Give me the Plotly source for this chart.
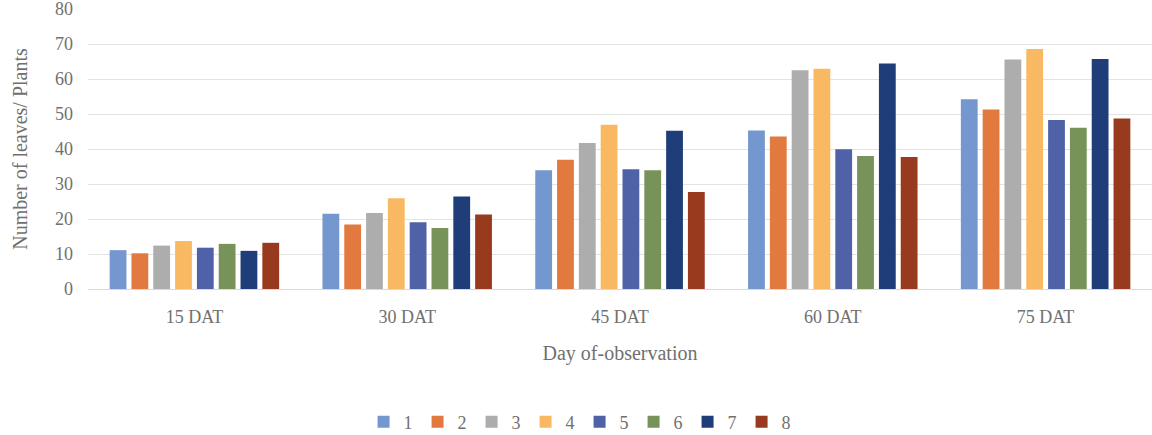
import plotly.graph_objects as go

categories = ["15 DAT", "30 DAT", "45 DAT", "60 DAT", "75 DAT"]
series_names = ["1", "2", "3", "4", "5", "6", "7", "8"]
s1 = [11.1, 21.5, 33.9, 45.3, 54.2]
s2 = [10.2, 18.4, 36.9, 43.6, 51.3]
s3 = [12.4, 21.7, 41.7, 62.5, 65.6]
s4 = [13.7, 25.9, 46.9, 62.9, 68.6]
s5 = [11.8, 19.1, 34.2, 39.9, 48.3]
s6 = [12.9, 17.4, 33.9, 38.0, 46.1]
s7 = [10.9, 26.4, 45.2, 64.4, 65.7]
s8 = [13.2, 21.3, 27.7, 37.7, 48.7]
series_values = [s1, s2, s3, s4, s5, s6, s7, s8]
y_ticks = [0, 10, 20, 30, 40, 50, 60, 70, 80]

colors = ["#7497cf", "#e27a40", "#adadad", "#f9b862", "#4f62a7", "#78935a", "#1f3d78", "#983a1d"]

font_family = "Liberation Serif, Times New Roman, serif"
text_color = "#707070"

fig = go.Figure()
for name, vals, col in zip(series_names, series_values, colors):
    fig.add_trace(go.Bar(x=categories, y=vals, name=name, marker=dict(color=col, line=dict(width=0))))

fig.update_layout(
    width=1152, height=435,
    barmode="group", bargap=0.18, bargroupgap=0.23,
    plot_bgcolor="white", paper_bgcolor="white",
    margin=dict(l=88, r=0, t=9, b=146, autoexpand=False),
    font=dict(family=font_family, color=text_color, size=17),
    showlegend=True,
    legend=dict(orientation="h", x=0.462, xanchor="center", y=-0.475, yanchor="middle",
                font=dict(size=18, color=text_color), itemwidth=30, traceorder="normal"),
    xaxis=dict(
        automargin=False,
        showgrid=False, showline=True, linecolor="#d9d9d9", linewidth=1,
        ticks="", tickfont=dict(size=18, color=text_color), ticklabelstandoff=11,
        title=dict(text="Day of-observation", font=dict(size=20, color=text_color), standoff=20),
    ),
    yaxis=dict(
        automargin=False,
        range=[0, 80], tickvals=y_ticks, showgrid=True, gridcolor="#e3e3e3", gridwidth=1,
        zeroline=False, showline=False, ticks="", ticklabelstandoff=14,
        ticklabeloverflow="allow",
        tickfont=dict(size=18, color=text_color),
        title=dict(text="Number of leaves/ Plants", font=dict(size=20, color=text_color), standoff=22),
    ),
)

fig.write_html("out.html")
